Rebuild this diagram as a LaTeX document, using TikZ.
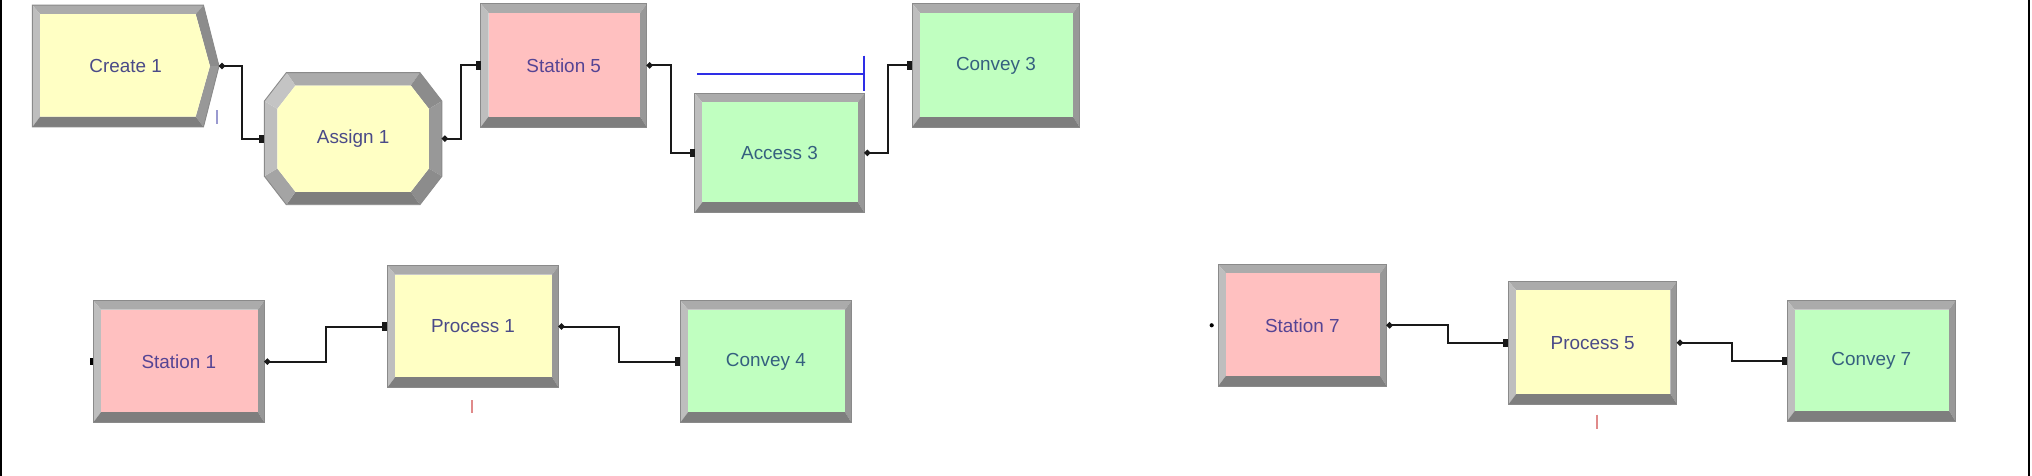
\documentclass[tikz,border=0pt]{standalone}
\usepackage{fontspec}
\setmainfont{Liberation Sans}
\usetikzlibrary{calc,arrows.meta}
\definecolor{pinkfill}{HTML}{FFC0C0}
\definecolor{yelfill}{HTML}{FFFFC4}
\definecolor{grnfill}{HTML}{C0FFC0}
\definecolor{bvtop}{HTML}{ABABAB}
\definecolor{bvleft}{HTML}{BEBEBE}
\definecolor{bvright}{HTML}{989898}
\definecolor{bvbot}{HTML}{7E7E7E}
\definecolor{bvdiagd}{HTML}{8C8C8C}
\definecolor{bvdiagl}{HTML}{C4C4C4}
\definecolor{bvdiagm}{HTML}{A4A4A4}
\definecolor{bvline}{HTML}{8A8A8A}
\definecolor{txpink}{HTML}{554494}
\definecolor{txyel}{HTML}{4A4A88}
\definecolor{txgrn}{HTML}{35607F}
\definecolor{qblue}{HTML}{2E2EE6}
\definecolor{cntblue}{HTML}{9A9AD0}
\definecolor{cntred}{HTML}{E08A8A}
\tikzset{
  modlabel/.style={inner sep=0pt, outer sep=0pt, font=\fontsize{8.3}{9}\selectfont},
  conn/.style={line width=0.9pt, draw=black!90, {Circle[length=2.6pt]}-{Rectangle[length=2.2pt,width=3.6pt]}},
  queueline/.style={line width=0.9pt, draw=qblue},
  outline/.style={draw=bvline, line width=0.4pt},
  counter/.style={line width=0.8pt},
  frame/.style={line width=0.9pt, draw=black},
}
\newcommand\rectmod[8]{%
  \fill[bvtop] (#2,#3) -- (#4,#3) -- (#4-5,#3+7) -- (#2+6,#3+7) -- cycle;
  \fill[bvleft] (#2,#3) -- (#2+6,#3+7) -- (#2+6,#5-8) -- (#2,#5) -- cycle;
  \fill[bvright] (#4,#3) -- (#4,#5) -- (#4-5,#5-8) -- (#4-5,#3+7) -- cycle;
  \fill[bvbot] (#2,#5) -- (#4,#5) -- (#4-5,#5-8) -- (#2+6,#5-8) -- cycle;
  \fill[#6] (#2+6,#3+7) rectangle (#4-5,#5-8);
  \draw[outline] (#2,#3) rectangle (#4,#5);
  \node[modlabel, text=#7, minimum width={(#4-#2)*0.02cm}, minimum height={(#5-#3)*0.02cm}] (#1) at ({(#2+#4)/2},{(#3+#5)/2}) {#8};
}
\begin{document}
\begin{tikzpicture}[x=0.02cm,y=-0.02cm]
\useasboundingbox (0,0) rectangle (1568,367);
\fill[white] (0,0) rectangle (1568,367);
\draw[frame] (1,0) -- (1,367);
\draw[frame] (1566,0) -- (1566,367);

% Create 1
\fill[bvtop] (25,4) -- (157,4) -- (151,11) -- (31,11) -- cycle;
\fill[bvleft] (25,4) -- (31,11) -- (31,90) -- (25,98) -- cycle;
\fill[bvdiagd] (157,4) -- (169,51) -- (162,51) -- (151,11) -- cycle;
\fill[bvright] (169,51) -- (157,98) -- (151,90) -- (162,51) -- cycle;
\fill[bvbot] (25,98) -- (157,98) -- (151,90) -- (31,90) -- cycle;
\fill[yelfill] (31,11) -- (151,11) -- (162,51) -- (151,90) -- (31,90) -- cycle;
\draw[outline] (25,4) -- (157,4) -- (169,51) -- (157,98) -- (25,98) -- cycle;
\node[modlabel, text=txyel, minimum width={144*0.02cm}, minimum height={94*0.02cm}] (cr1) at (97,51) {Create 1};

% Assign 1
\coordinate (o1) at (221,56); \coordinate (o2) at (324,56);
\coordinate (o3) at (341,78); \coordinate (o4) at (341,136);
\coordinate (o5) at (324,158); \coordinate (o6) at (221,158);
\coordinate (o7) at (204,136); \coordinate (o8) at (204,78);
\coordinate (i1) at (228,66); \coordinate (i2) at (317,66);
\coordinate (i3) at (331,84); \coordinate (i4) at (331,130);
\coordinate (i5) at (317,148); \coordinate (i6) at (228,148);
\coordinate (i7) at (214,130); \coordinate (i8) at (214,84);
\fill[bvtop] (o1) -- (o2) -- (i2) -- (i1) -- cycle;
\fill[bvdiagd] (o2) -- (o3) -- (i3) -- (i2) -- cycle;
\fill[bvright] (o3) -- (o4) -- (i4) -- (i3) -- cycle;
\fill[bvdiagd] (o4) -- (o5) -- (i5) -- (i4) -- cycle;
\fill[bvbot] (o5) -- (o6) -- (i6) -- (i5) -- cycle;
\fill[bvdiagm] (o6) -- (o7) -- (i7) -- (i6) -- cycle;
\fill[bvleft] (o7) -- (o8) -- (i8) -- (i7) -- cycle;
\fill[bvdiagl] (o8) -- (o1) -- (i1) -- (i8) -- cycle;
\fill[yelfill] (i1) -- (i2) -- (i3) -- (i4) -- (i5) -- (i6) -- (i7) -- (i8) -- cycle;
\draw[outline] (o1) -- (o2) -- (o3) -- (o4) -- (o5) -- (o6) -- (o7) -- (o8) -- cycle;
\node[modlabel, text=txyel, minimum width={137*0.02cm}, minimum height={102*0.02cm}] (as1) at (272.5,107) {Assign 1};

% rectangular modules
\rectmod{st5}{371}{3}{499}{98}{pinkfill}{txpink}{Station 5}
\rectmod{acc3}{536}{72}{667}{164}{grnfill}{txgrn}{Access 3}
\rectmod{cv3}{704}{3}{833}{98}{grnfill}{txgrn}{Convey 3}
\rectmod{st1}{72}{232}{204}{326}{pinkfill}{txpink}{Station 1}
\rectmod{pr1}{299}{205}{431}{299}{yelfill}{txyel}{Process 1}
\rectmod{cv4}{525}{232}{657}{326}{grnfill}{txgrn}{Convey 4}
\rectmod{st7}{940}{204}{1070}{298}{pinkfill}{txpink}{Station 7}
\rectmod{pr5}{1164}{217}{1294}{312}{yelfill}{txyel}{Process 5}
\rectmod{cv7}{1379}{232}{1509}{325}{grnfill}{txgrn}{Convey 7}

% queue of Access 3
\draw[queueline] ($(acc3.north west)+(2,-15)$) -- ($(acc3.north east)+(0,-15)$);
\draw[queueline] ($(acc3.north east)+(0,-29)$) -- ($(acc3.north east)+(0,-2)$);

% connectors
\foreach \a/\b in {cr1/as1, as1/st5, st5/acc3, acc3/cv3, st1/pr1, pr1/cv4, st7/pr5, pr5/cv7}
  \draw[conn] (\a.east) -| ($(\a.east)!.5!(\b.west)$) |- (\b.west);

% entry points without connector
\fill ($(st1.west)+(-2.5,-3)$) rectangle ($(st1.west)+(0,3)$);
\fill ($(st7.west)+(-5,0)$) circle (1.6);

% counters
\draw[counter, cntblue] ($(cr1.south east)+(-1.3,-13)$) -- ($(cr1.south east)+(-1.3,-2)$);
\draw[counter, cntred] ($(pr1.south)+(-1,10)$) -- ($(pr1.south)+(-1,20)$);
\draw[counter, cntred] ($(pr5.south)+(3,8)$) -- ($(pr5.south)+(3,19)$);
\end{tikzpicture}
\end{document}
